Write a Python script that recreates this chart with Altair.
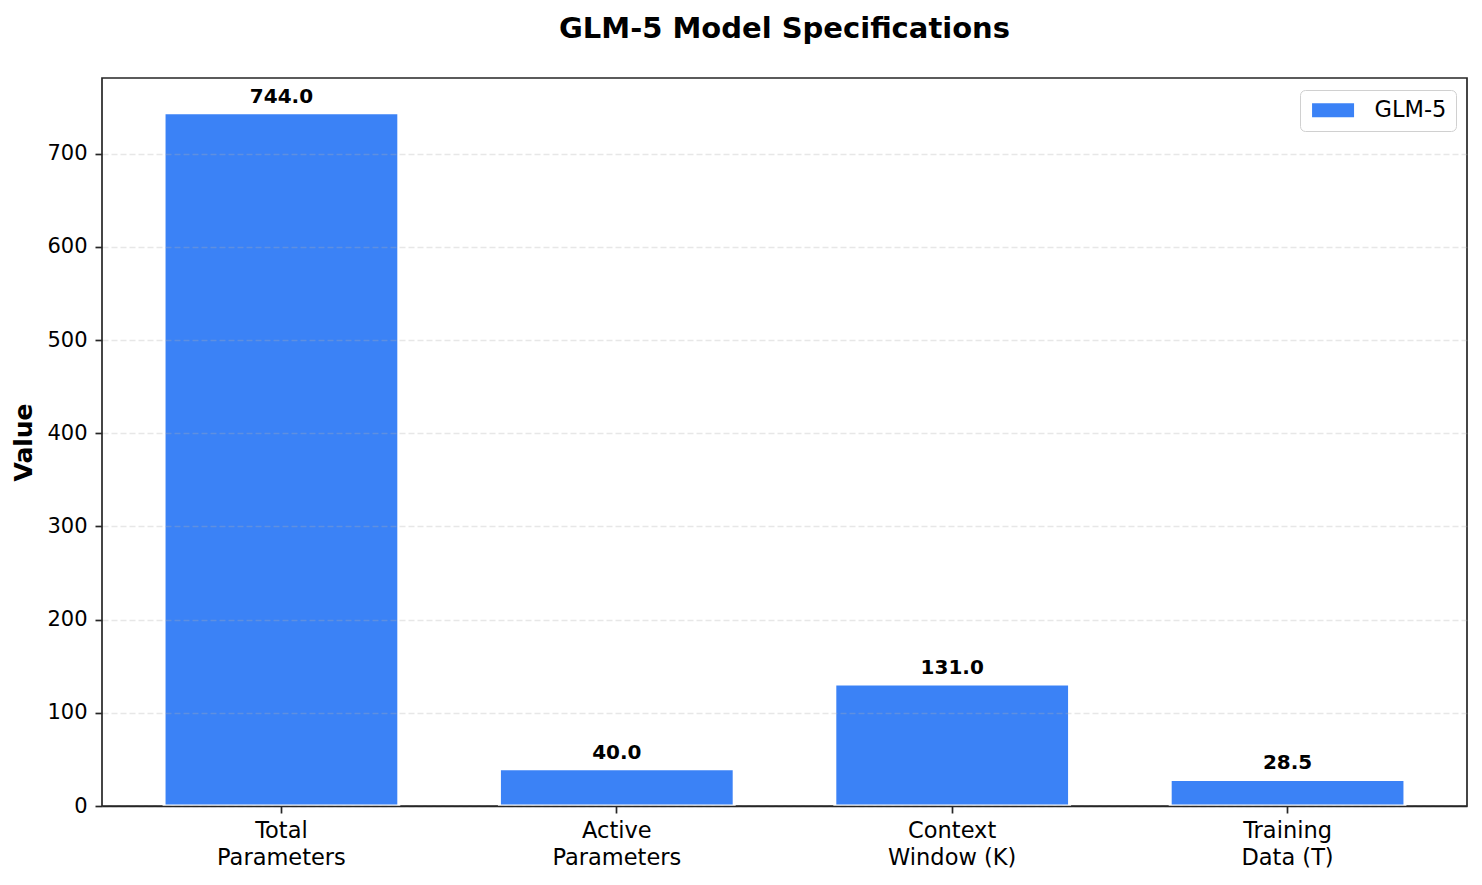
import altair as alt
import pandas as pd

categories = ["Total\nParameters", "Active\nParameters", "Context\nWindow (K)", "Training\nData (T)"]
values = [744.0, 40.0, 131.0, 28.5]
series = ["GLM-5", "GLM-5", "GLM-5", "GLM-5"]
y_ticks = [0, 100, 200, 300, 400, 500, 600, 700]

df = pd.DataFrame({"category": categories, "value": values, "model": series})

FONT = "DejaVu Sans"
BLUE = "#3b82f6"
SPINE = "#262626"

x_enc = alt.X(
    "category:N",
    sort=None,
    scale=alt.Scale(paddingInner=0.3, paddingOuter=0.185),
    axis=alt.Axis(
        title=None,
        labelAngle=0,
        labelExpr="split(datum.value, '\\n')",
        labelFontSize=22.5,
        labelLineHeight=27,
        labelColor="black",
        labelPadding=6,
        labelBaseline="top",
        tickSize=7,
        tickWidth=1.7,
        tickColor=SPINE,
        domain=True,
        domainColor=SPINE,
        domainWidth=1.7,
        grid=False,
        zindex=1,
    ),
)

y_scale = alt.Scale(domain=[0, 781.2], nice=False, zero=True)

bars = alt.Chart(df).mark_bar(stroke="white", strokeWidth=3).encode(
    x=x_enc,
    y=alt.Y(
        "value:Q",
        scale=y_scale,
        axis=alt.Axis(
            title="Value",
            titleFontSize=25,
            titleFontWeight="bold",
            titleColor="black",
            titlePadding=10,
            values=y_ticks,
            format="d",
            labelFontSize=21,
            labelColor="black",
            labelPadding=8,
            tickSize=7,
            tickWidth=1.7,
            tickColor=SPINE,
            domain=False,
            grid=True,
            gridColor="#b0b0b0",
            gridOpacity=0.3,
            gridDash=[6, 3],
            gridWidth=1.6,
            zindex=1,
        ),
    ),
    color=alt.Color(
        "model:N",
        scale=alt.Scale(range=[BLUE]),
        legend=alt.Legend(
            title=None,
            orient="none",
            legendX=1198,
            legendY=12,
            symbolType="M-1.17,-1H4.83V1H-1.17Z",
            symbolSize=196,
            symbolStrokeWidth=0,
            symbolOpacity=1,
            labelFontSize=22.5,
            labelColor="black",
            labelOffset=43,
            padding=9,
            cornerRadius=5,
            strokeColor="#d0d0d0",
            fillColor="white",
        ),
    ),
)

labels = alt.Chart(df).mark_text(
    font=FONT, fontSize=20, fontWeight="bold", color="black",
    baseline="alphabetic", dy=-10,
).encode(
    x=alt.X("category:N", sort=None),
    y=alt.Y("value:Q", scale=y_scale),
    text=alt.Text("value:Q", format=".1f"),
)

chart = (
    alt.layer(bars, labels)
    .properties(
        width=1365,
        height=728,
        title=alt.Title(
            "GLM-5 Model Specifications",
            fontSize=29,
            fontWeight="bold",
            font=FONT,
            color="black",
            anchor="middle",
            offset=34,
        ),
        autosize=alt.AutoSizeParams(type="none"),
        padding={"left": 94, "top": 70, "right": 7, "bottom": 71},
    )
    .configure(font=FONT)
    .configure_view(stroke=SPINE, strokeWidth=1.7)
    .configure_axis(labelFont=FONT, titleFont=FONT)
    .configure_legend(labelFont=FONT)
)

chart.save("out.html", embed_options={"renderer": "svg", "actions": False})
